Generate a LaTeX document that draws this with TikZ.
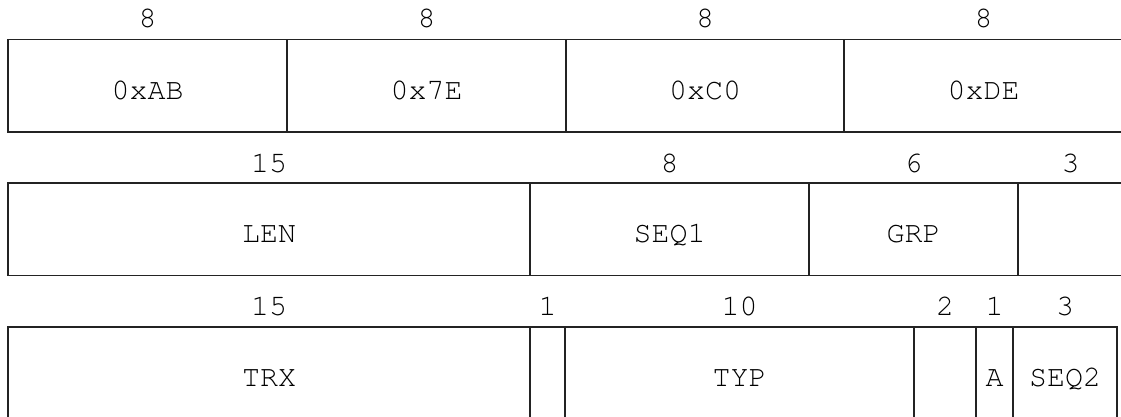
\documentclass[tikz,border=0pt]{standalone}
\usepackage{fontspec}
\setmonofont{TeX Gyre Cursor}
\usetikzlibrary{calc}
\begin{document}
\begin{tikzpicture}[x=1pt,y=1pt,
  field/.style={draw={rgb,255:red,35;green,35;blue,35}, line width=1.6pt, rectangle, inner sep=0pt, outer sep=0pt,
    minimum height=92.5pt, anchor=north west, text height=27pt, text depth=0pt,
    font=\ttfamily\fontsize{30}{32}\selectfont},
  bits/.style={anchor=base, inner sep=0pt, font=\ttfamily\fontsize{30}{32}\selectfont}]
\clip (0,0) rectangle (1121,416);
% row 1
\node[field, minimum width=279pt] (a1) at (8,376.5) {0xAB};
\node[field, minimum width=279pt] (a2) at (a1.north east) {0x7E};
\node[field, minimum width=278pt] (a3) at (a2.north east) {0xC0};
\node[field, minimum width=279pt] (a4) at (a3.north east) {0xDE};
\foreach \n in {a1,a2,a3,a4} \node[bits] (l\n) at ($(\n.north)+(0,12)$) {8};
% row 2
\node[field, minimum width=522pt] (b1) at (8,233) {LEN};
\node[field, minimum width=279pt] (b2) at (b1.north east) {SEQ1};
\node[field, minimum width=209pt] (b3) at (b2.north east) {GRP};
\node[field, minimum width=105pt] (b4) at (b3.north east) {};
\node[bits] (lb1) at ($(b1.north)+(0,10.5)$) {15};
\node[bits] (lb2) at ($(b2.north)+(0,10.5)$) {8};
\node[bits] (lb3) at ($(b3.north)+(0,10.5)$) {6};
\node[bits] (lb4) at ($(b4.north)+(0,10.5)$) {3};
% row 3
\node[field, minimum width=522pt] (c1) at (8,89.3) {TRX};
\node[field, minimum width=35pt] (c2) at (c1.north east) {};
\node[field, minimum width=349pt] (c3) at (c2.north east) {TYP};
\node[field, minimum width=62pt] (c4) at (c3.north east) {};
\node[field, minimum width=37pt] (c5) at (c4.north east) {A};
\node[field, minimum width=104pt] (c6) at (c5.north east) {SEQ2};
\node[bits] (lc1) at ($(c1.north)+(0,11)$) {15};
\node[bits] (lc2) at ($(c2.north)+(0,11)$) {1};
\node[bits] (lc3) at ($(c3.north)+(0,11)$) {10};
\node[bits] (lc4) at ($(c4.north)+(0,11)$) {2};
\node[bits] (lc5) at ($(c5.north)+(0,11)$) {1};
\node[bits] (lc6) at ($(c6.north)+(0,11)$) {3};
\end{tikzpicture}
\end{document}
